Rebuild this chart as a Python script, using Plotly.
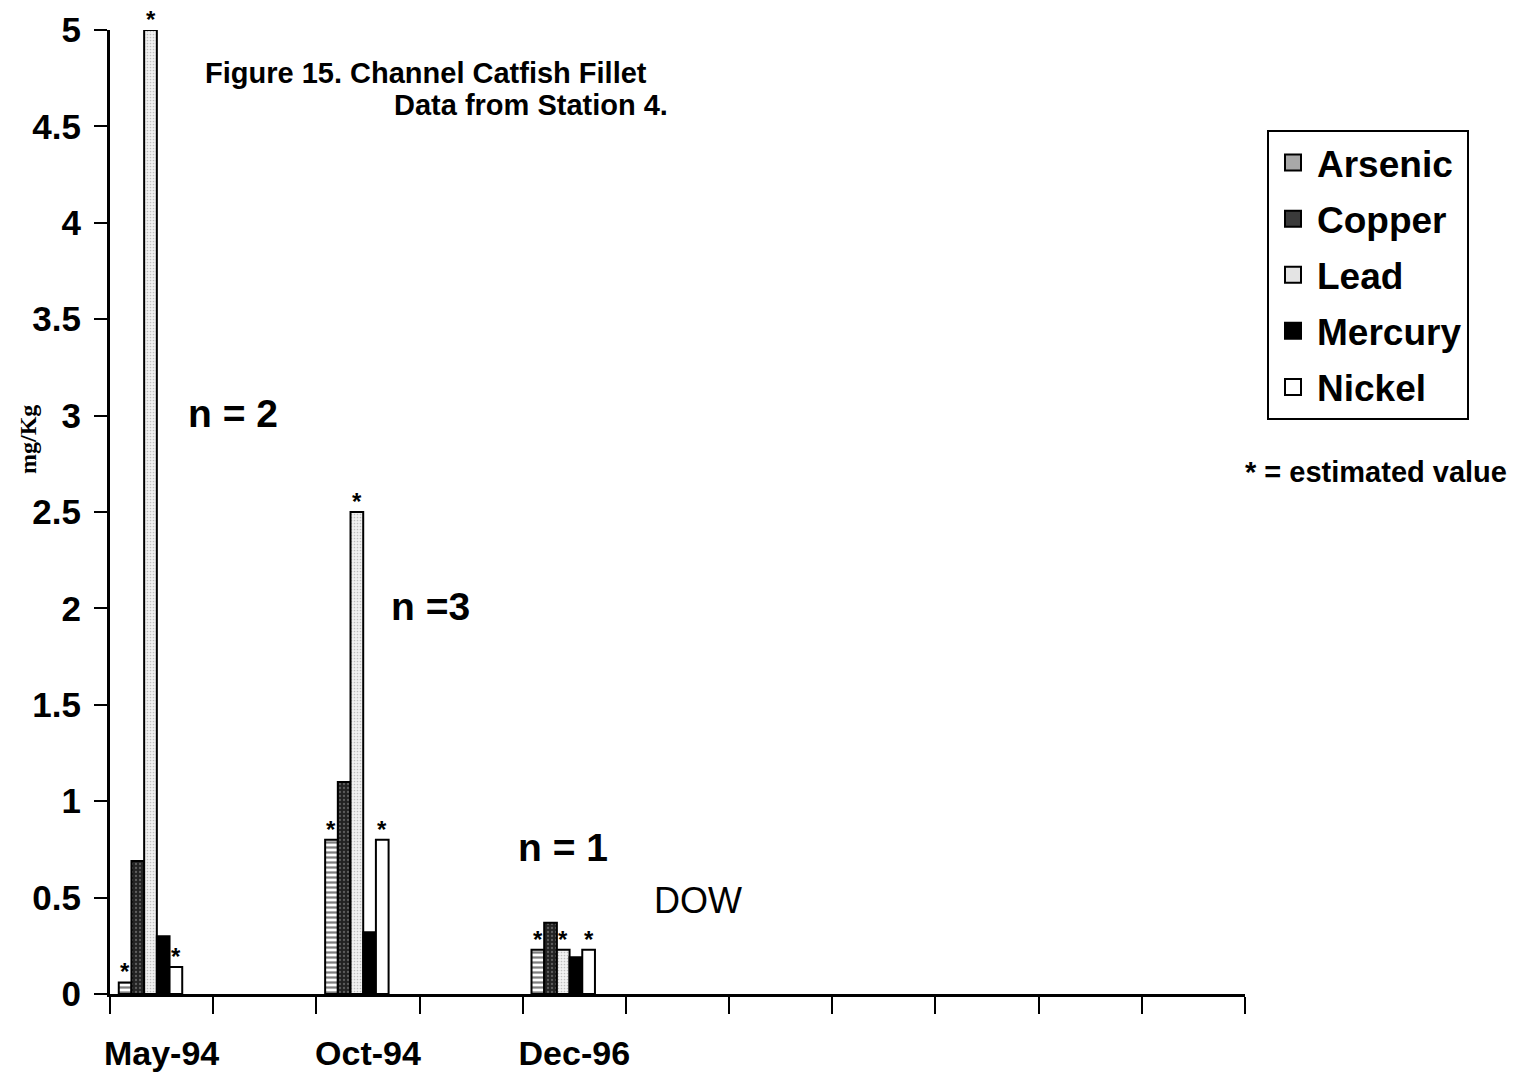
import plotly.graph_objects as go

# Sampling dates (placed on every other slot of an 11-slot category axis)
dates = ["May-94", "Oct-94", "Dec-96"]
date_slots = [0, 2, 4]
n_slots = 11

metals = ["Arsenic", "Copper", "Lead", "Mercury", "Nickel"]
arsenic = [0.06, 0.80, 0.23]
copper = [0.69, 1.10, 0.37]
lead = [5.00, 2.50, 0.23]
mercury = [0.30, 0.32, 0.19]
nickel = [0.14, 0.80, 0.23]
values = [arsenic, copper, lead, mercury, nickel]

# Which series carry an estimated-value flag
estimated = [True, False, True, False, True]

sample_sizes = ["n = 2", "n =3", "n = 1"]

FONT = "Liberation Sans, Arial, sans-serif"

styles = [
    dict(color="white", pattern=dict(shape="-", fgcolor="black", bgcolor="white", size=5, solidity=0.45)),
    dict(color="#222", pattern=dict(shape=".", fgcolor="#9a9a9a", bgcolor="#222", size=4, solidity=0.25)),
    dict(color="#eee", pattern=dict(shape=".", fgcolor="#8a8a8a", bgcolor="#f2f2f2", size=3, solidity=0.25)),
    dict(color="black"),
    dict(color="white"),
]
# flat swatch colours for the legend keys
swatch = ["#a8a8a8", "#3a3a3a", "#e4e4e4", "black", "white"]

bar_w = 0.123
first_offset = -0.415

fig = go.Figure()
for i, (name, vals, st) in enumerate(zip(metals, values, styles)):
    marker = dict(color=st["color"], line=dict(color="black", width=2))
    if "pattern" in st:
        marker["pattern"] = st["pattern"]
    fig.add_trace(go.Bar(
        x=date_slots, y=vals, name=name, marker=marker,
        width=bar_w, offset=first_offset + i * bar_w,
        legendgroup=name, showlegend=False,
    ))
    # large square key for the legend
    fig.add_trace(go.Scatter(
        x=[None], y=[None], mode="markers", name=f"<b>{name}</b>",
        marker=dict(symbol="square", size=24, color=swatch[i], line=dict(color="black", width=2)),
        legendgroup=name, showlegend=True,
    ))

annotations = []
# asterisks over estimated values
for i, vals in enumerate(values):
    if not estimated[i]:
        continue
    for slot, v in zip(date_slots, vals):
        annotations.append(dict(
            x=slot + first_offset + i * bar_w + bar_w / 2, y=v, xref="x", yref="y",
            text="<b>*</b>", showarrow=False, yanchor="bottom", yshift=-5,
            font=dict(family=FONT, size=24, color="black"),
        ))

px_x = lambda p: (p - 110) / 1135
px_y = lambda p: (994 - p) / 964


def txt(px, py, text, size, xanchor="center", family=FONT, **kw):
    annotations.append(dict(
        x=px_x(px), y=px_y(py), xref="paper", yref="paper", xanchor=xanchor, yanchor="middle",
        text=text, showarrow=False, font=dict(family=family, size=size, color="black"), **kw,
    ))


txt(203, 73, "<b>Figure 15. Channel Catfish Fillet</b>", 29, xanchor="left")
txt(670, 105, "<b>Data from Station 4.</b>", 29, xanchor="right")
for label, (px, py) in zip(sample_sizes, [(233, 413), (430, 606), (563, 847)]):
    txt(px, py, f"<b>{label}</b>", 39)
txt(698, 900, "DOW", 36)
txt(1376, 472, "<b>* = estimated value</b>", 29)
txt(28, 440, "<b>mg/Kg</b>", 24, textangle=-90, family="Liberation Serif, Times New Roman, serif")

fig.update_layout(
    width=1519, height=1079,
    margin=dict(l=110, r=274, t=30, b=85, pad=0),
    paper_bgcolor="white", plot_bgcolor="white",
    barmode="overlay",
    showlegend=True,
    legend=dict(
        x=px_x(1267), y=px_y(130), xanchor="left", yanchor="top",
        bordercolor="black", borderwidth=2, bgcolor="white",
        font=dict(family=FONT, size=37, color="black"),
        tracegroupgap=5, itemwidth=38,
    ),
    annotations=annotations,
)
fig.update_xaxes(
    range=[-0.5, n_slots - 0.5], automargin=False,
    tickmode="array", tickvals=date_slots, ticktext=[f"<b>{d}</b>" for d in dates],
    ticks="outside", ticklen=0, tickwidth=0, ticklabelstandoff=27,
    tickfont=dict(family=FONT, size=34, color="black"),
    minor=dict(ticks="outside", ticklen=17, tickwidth=2, tickcolor="black", tick0=-0.5, dtick=1, showgrid=False),
    showline=True, linecolor="black", linewidth=3,
    showgrid=False, zeroline=False, fixedrange=True,
)
fig.update_yaxes(
    range=[0, 5], tick0=0, dtick=0.5, automargin=False,
    ticks="outside", ticklen=13, tickwidth=2, tickcolor="black",
    ticklabelstandoff=6, tickprefix="<b>", ticksuffix="</b>",
    tickfont=dict(family=FONT, size=35, color="black"),
    showline=True, linecolor="black", linewidth=3,
    showgrid=False, zeroline=False,
)

fig.write_html("out.html")
